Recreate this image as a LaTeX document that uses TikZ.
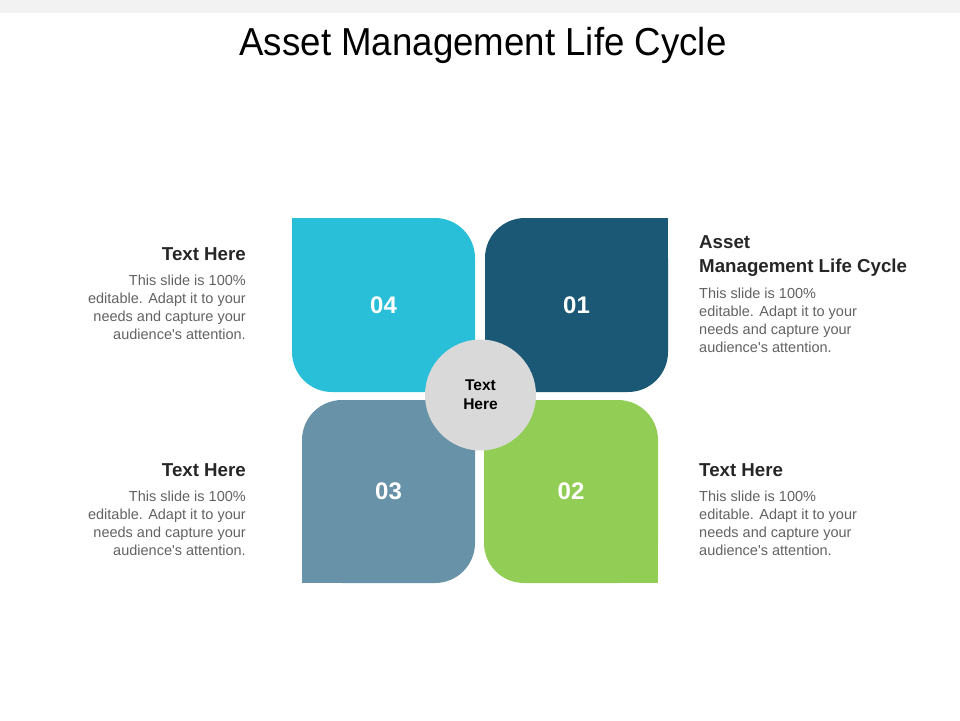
\documentclass[tikz,border=0pt]{standalone}
\usepackage{fontspec}
\setmainfont{Liberation Sans}
\newfontfamily\titlefont[FakeStretch=0.94]{Liberation Sans}
\usepackage{tikz}
\usetikzlibrary{positioning}
\definecolor{tileone}{HTML}{1A5875}
\definecolor{tiletwo}{HTML}{92CD56}
\definecolor{tilethree}{HTML}{6792A8}
\definecolor{tilefour}{HTML}{29BFD8}
\definecolor{hubgray}{HTML}{D9D9D9}
\definecolor{bodygray}{HTML}{626262}
\definecolor{headgray}{HTML}{262626}
\tikzstyle{tile} = [rectangle, rounded corners=40pt, inner sep=0pt, text=white, font=\bfseries\fontsize{24}{24}\selectfont]
\tikzstyle{hub} = [circle, fill=hubgray, minimum size=111pt, inner sep=0pt, align=center, font=\bfseries\fontsize{15.5}{19}\selectfont]
\tikzstyle{heading} = [inner sep=0pt, text=headgray, font=\bfseries\fontsize{18.7}{24}\selectfont]
\tikzstyle{blurb} = [inner sep=0pt, text=bodygray, font=\fontsize{14.5}{18}\selectfont]
\newcommand{\blurbtext}{This slide is 100\%\\editable. Adapt it to your\\needs and capture your\\audience\textquotesingle s attention.}
\begin{document}
\begin{tikzpicture}[x=1pt, y=-1pt]
	\useasboundingbox (0,0) rectangle (960,720);
	\fill[gray!10] (0,0) rectangle (960,13);
	\node[font=\titlefont\fontsize{39}{40}\selectfont] (title) at (483,45) {Asset Management Life Cycle};
	% the four tiles, one corner left square
	\node[tile, fill=tilefour, minimum width=183pt, minimum height=174pt] (q04) at (383.5,305) {};
	\fill[tilefour] (q04.north west) rectangle ++(45,45);
	\node[tile, fill=tileone, minimum width=183pt, minimum height=174pt] (q01) at (576.5,305) {};
	\fill[tileone] (q01.north east) rectangle ++(-45,45);
	\node[tile, fill=tilethree, minimum width=173pt, minimum height=183pt] (q03) at (388.5,491.5) {};
	\fill[tilethree] (q03.south west) rectangle ++(45,-45);
	\node[tile, fill=tiletwo, minimum width=174pt, minimum height=183pt] (q02) at (571,491.5) {};
	\fill[tiletwo] (q02.south east) rectangle ++(-45,-45);
	\node[tile] at (q04) {04};
	\node[tile] at (q01) {01};
	\node[tile] at (q03) {03};
	\node[tile] at (q02) {02};
	\node[hub] (hub) at (480.5,395) {Text\\Here};
	% side texts
	\node[heading, anchor=east] (h4) at (246,254) {Text Here};
	\node[blurb, align=right, below left=14pt and 0pt of h4.south east] (b4) {\blurbtext};
	\node[heading, anchor=east] (h3) at (246,470) {Text Here};
	\node[blurb, align=right, below left=14pt and 0pt of h3.south east] (b3) {\blurbtext};
	\node[heading, align=left, anchor=west] (h1) at (699,256) {Asset\\Management Life Cycle};
	\node[blurb, align=left, below right=11pt and 0pt of h1.south west] (b1) {\blurbtext};
	\node[heading, anchor=west] (h2) at (699,470) {Text Here};
	\node[blurb, align=left, below right=14pt and 0pt of h2.south west] (b2) {\blurbtext};
\end{tikzpicture}
\end{document}
